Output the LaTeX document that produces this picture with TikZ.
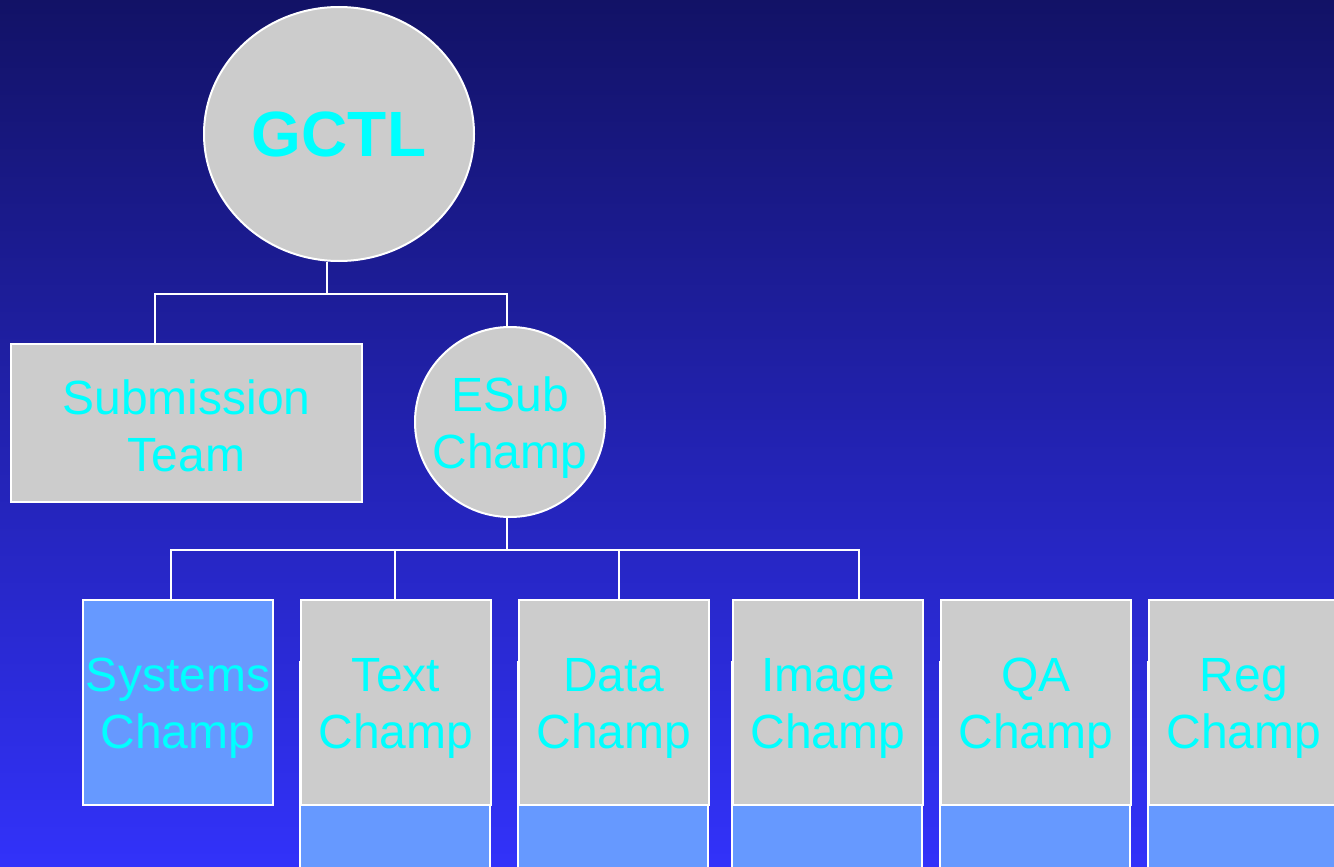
\documentclass[tikz,border=0pt]{standalone}
\usepackage{fontspec}
\setmainfont{Liberation Sans}
\usetikzlibrary{shapes.geometric}
\definecolor{bgtop}{RGB}{18,18,102}
\definecolor{bgbot}{RGB}{50,50,250}
\definecolor{boxgray}{RGB}{204,204,204}
\definecolor{boxblue}{RGB}{102,153,255}
\definecolor{txtcyan}{RGB}{0,255,255}
\newcommand{\orgstrut}{\rule{0pt}{45pt}}
\tikzset{
  orgbase/.style={draw=white, line width=2pt, inner sep=0pt, text=txtcyan, align=center,
    font=\fontsize{48}{57}\selectfont},
  ovalnode/.style={orgbase, ellipse, fill=boxgray},
  graybox/.style={orgbase, rectangle, fill=boxgray, minimum width=190pt, minimum height=205pt},
  bluebox/.style={orgbase, rectangle, fill=boxblue, minimum width=190pt, minimum height=205pt},
  lowbox/.style={draw=white, line width=1.5pt, fill=boxblue, rectangle, inner sep=0pt,
    minimum width=190pt, minimum height=240pt},
  conn/.style={draw=white, line width=2pt}
}
\begin{document}
\begin{tikzpicture}[x=1pt,y=-1pt]
\useasboundingbox (0,0) rectangle (1334,867);
\clip (0,0) rectangle (1334,867);
\shade[top color=bgtop, bottom color=bgbot] (0,0) rectangle (1334,867);

% lower blue parts (behind gray boxes)
\node[lowbox] (textlow)  at (395,782) {};
\node[lowbox] (datalow)  at (613,782) {};
\node[lowbox] (imagelow) at (827,782) {};
\node[lowbox] (qalow)    at (1035,782) {};
\node[lowbox] (reglow)   at (1243,782) {};

% nodes
\node[ovalnode, minimum width=270pt, minimum height=254pt,
      font=\bfseries\fontsize{64}{70}\selectfont] (gctl) at (339,134) {GCTL};
\node[orgbase, rectangle, fill=boxgray, minimum width=351pt, minimum height=158pt]
      (sub) at (186.5,423) {\rule{0pt}{40pt}Submission\\Team};
\node[ovalnode, minimum width=190pt, minimum height=190pt, inner xsep=-14pt]
      (esub) at (510,422) {\orgstrut ESub\\Champ};

\node[bluebox] (sys)   at (178,702.5)  {\orgstrut Systems\\Champ};
\node[graybox] (text)  at (396,702.5)  {\orgstrut Text\\Champ};
\node[graybox] (data)  at (614,702.5)  {\orgstrut Data\\Champ};
\node[graybox] (image) at (828,702.5)  {\orgstrut Image\\Champ};
\node[graybox] (qa)    at (1036,702.5) {\orgstrut QA\\Champ};
\node[graybox] (reg)   at (1244,702.5) {\orgstrut Reg\\Champ};

% connectors
\coordinate (j1) at (327,294);
\coordinate (j2) at (507,550);
\draw[conn] ([xshift=-12pt]gctl.south) -- (j1);
\draw[conn] ([xshift=-31.5pt]sub.north) |- (j1) -| ([xshift=-3pt]esub.north);
\draw[conn] ([xshift=-3pt]esub.south) -- (j2);
\draw[conn] ([xshift=-7pt]sys.north) |- (j2) -| ([xshift=31pt]image.north);
\draw[conn] ([xshift=-1pt]text.north) -- ([xshift=-1pt]text.north |- j2);
\draw[conn] ([xshift=5pt]data.north) -- ([xshift=5pt]data.north |- j2);
\end{tikzpicture}
\end{document}
